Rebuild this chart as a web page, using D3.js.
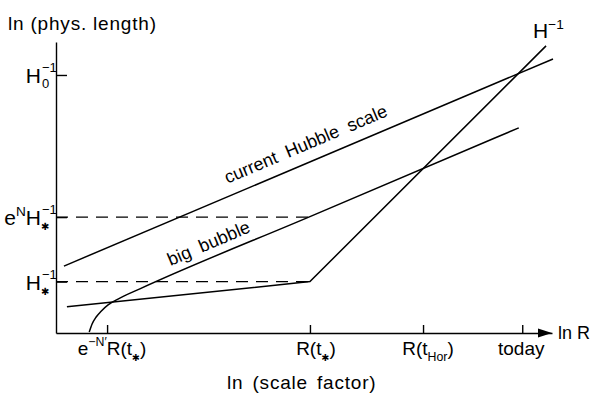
<!DOCTYPE html>
<html>
<head>
<meta charset="utf-8">
<script src="https://cdn.jsdelivr.net/npm/d3@7"></script>
<style>
  body { margin: 0; background: #fff; }
  text { font-family: "Liberation Sans", Arial, sans-serif; fill: #000; }
</style>
</head>
<body>
<div id="chart"></div>
<script>
// x = ln R, y = ln(phys. length), arbitrary units
var xTickValues = [1.03, 5.12, 7.40, 9.40];
var xTickLabels = [
  [["e"], ["\u2212N\u2032", "sup"], ["R(t"], ["\u2731", "sub"], [")"]],
  [["R(t"], ["\u2731", "sub"], [")"]],
  [["R(t"], ["Hor", "sub"], [")"]],
  [["today"]]
];

var yTickValues = [5.32, 2.39, 1.06];
var yTickLabels = [
  { base: [["H"]], sub: "0", sup: "\u22121" },
  { base: [["e"], ["N", "sup"], ["H"]], sub: "\u2731", sup: "\u22121" },
  { base: [["H"]], sub: "\u2731", sup: "\u22121" }
];

// current Hubble scale
var hubbleX = [0.16, 10.02];
var hubbleY = [1.38, 5.65];

// H^-1 : slow growth during inflation, then steep afterwards
var horizonX = [0.22, 5.12, 9.88];
var horizonY = [0.54, 1.06, 5.92];

// big bubble
var bubbleX = [0.67, 0.73, 0.81, 0.91, 1.05, 1.25, 1.69, 5.12, 9.33];
var bubbleY = [0.02, 0.19, 0.33, 0.45, 0.58, 0.70, 0.91, 2.40, 4.23];

var width = 591, height = 395;

var x = d3.scaleLinear().domain([0, 10]).range([56, 552]);
var y = d3.scaleLinear().domain([0, 6]).range([333, 42]);

var svg = d3.select("#chart")
  .append("svg")
  .attr("width", width)
  .attr("height", height);

// writes tspans with sub/superscripts into a text element
function richText(sel, parts, size) {
  var cur = 0;
  parts.forEach(function (p) {
    var off = 0, fs = size;
    if (p[1] == "sup") { off = -size * 0.45; fs = size * 0.65; }
    if (p[1] == "sub") { off = size * 0.3; fs = size * 0.65; }
    var ts = sel.append("tspan").text(p[0]).attr("font-size", fs).attr("dy", off - cur);
    if (p[0] == "\u2731") ts.attr("font-family", "DejaVu Sans").attr("font-size", size * 0.5);
    cur = off;
  });
}

// axes
var xAxis = svg.append("g")
  .attr("transform", "translate(0," + y(0) + ")")
  .call(d3.axisBottom(x).tickValues(xTickValues).tickSize(-8).tickSizeOuter(0).tickFormat(""));
xAxis.selectAll("path, line").attr("stroke-width", 1.4);

var yAxis = svg.append("g")
  .attr("transform", "translate(" + x(0) + ",0)")
  .call(d3.axisLeft(y).tickValues(yTickValues).tickSize(-11).tickSizeOuter(0).tickFormat(""));
yAxis.selectAll("path, line").attr("stroke-width", 1.4);

// arrow head on x axis
var tip = x(10);
svg.append("path")
  .attr("d", "M" + tip + "," + y(0) + "L" + (tip - 14) + "," + (y(0) - 4.5) + "L" + (tip - 14) + "," + (y(0) + 4.5) + "Z")
  .attr("fill", "#000");

// x tick labels
var xLabelDx = [5, 6, 5, -1];
xTickLabels.forEach(function (parts, i) {
  var t = svg.append("text")
    .attr("x", x(xTickValues[i]) + xLabelDx[i])
    .attr("y", 355)
    .attr("text-anchor", "middle")
    .attr("font-size", 19);
  richText(t, parts, 19);
});

// y tick labels: base right-aligned, stacked sub / sup after it
yTickLabels.forEach(function (lab, i) {
  var by = y(yTickValues[i]) + 8;
  var t = svg.append("text")
    .attr("x", 41).attr("y", by)
    .attr("text-anchor", "end")
    .attr("font-size", 21);
  richText(t, lab.base, 21);
  svg.append("text").attr("x", 42).attr("y", by - 11).attr("font-size", 13).text(lab.sup);
  var s = svg.append("text").attr("x", 42).attr("y", by + 5).attr("font-size", 13).text(lab.sub);
  if (lab.sub == "\u2731") s.attr("font-family", "DejaVu Sans").attr("font-size", 10).attr("x", 41);
});

// dashed guide lines to R(t*)
[1, 2].forEach(function (i) {
  svg.append("line")
    .attr("x1", x(0)).attr("x2", x(xTickValues[1]))
    .attr("y1", y(yTickValues[i])).attr("y2", y(yTickValues[i]))
    .attr("stroke", "#000")
    .attr("stroke-width", 1.3)
    .attr("stroke-dasharray", "12,8");
});

// curves
var line = d3.line().x(function (d) { return x(d[0]); }).y(function (d) { return y(d[1]); });

svg.append("path")
  .datum(d3.zip(hubbleX, hubbleY))
  .attr("d", line)
  .attr("fill", "none").attr("stroke", "#000").attr("stroke-width", 1.5);

svg.append("path")
  .datum(d3.zip(horizonX, horizonY))
  .attr("d", line)
  .attr("fill", "none").attr("stroke", "#000").attr("stroke-width", 1.5);

svg.append("path")
  .datum(d3.zip(bubbleX, bubbleY))
  .attr("d", line.curve(d3.curveMonotoneX))
  .attr("fill", "none").attr("stroke", "#000").attr("stroke-width", 1.5);

// labels along the lines
function lineLabel(txt, x0, x1, y0, y1, at, off) {
  var ly = d3.scaleLinear().domain([x0, x1]).range([y0, y1]);
  var ang = Math.atan2(y(y1) - y(y0), x(x1) - x(x0)) * 180 / Math.PI;
  svg.append("text")
    .attr("transform", "translate(" + x(at) + "," + y(ly(at)) + ") rotate(" + ang + ")")
    .attr("y", -off)
    .attr("font-size", 18)
    .attr("word-spacing", 5)
    .text(txt);
}
lineLabel("current Hubble scale", hubbleX[0], hubbleX[1], hubbleY[0], hubbleY[1], 3.55, 12);
lineLabel("big bubble", bubbleX[7], bubbleX[8], bubbleY[7], bubbleY[8], 2.38, 9);

// H^-1 label at top right
var hl = svg.append("text").attr("x", 533).attr("y", 38).attr("font-size", 21);
richText(hl, [["H"], ["\u22121", "sup"]], 21);

// axis titles
svg.append("text").attr("x", 8).attr("y", 30).attr("font-size", 19).attr("letter-spacing", 0.8).text("ln (phys. length)");
svg.append("text").attr("x", 227).attr("y", 389).attr("font-size", 19).attr("letter-spacing", 0.8).attr("word-spacing", 3).text("ln (scale factor)");
svg.append("text").attr("x", 558).attr("y", 339).attr("font-size", 18).text("ln R");
</script>
</body>
</html>
